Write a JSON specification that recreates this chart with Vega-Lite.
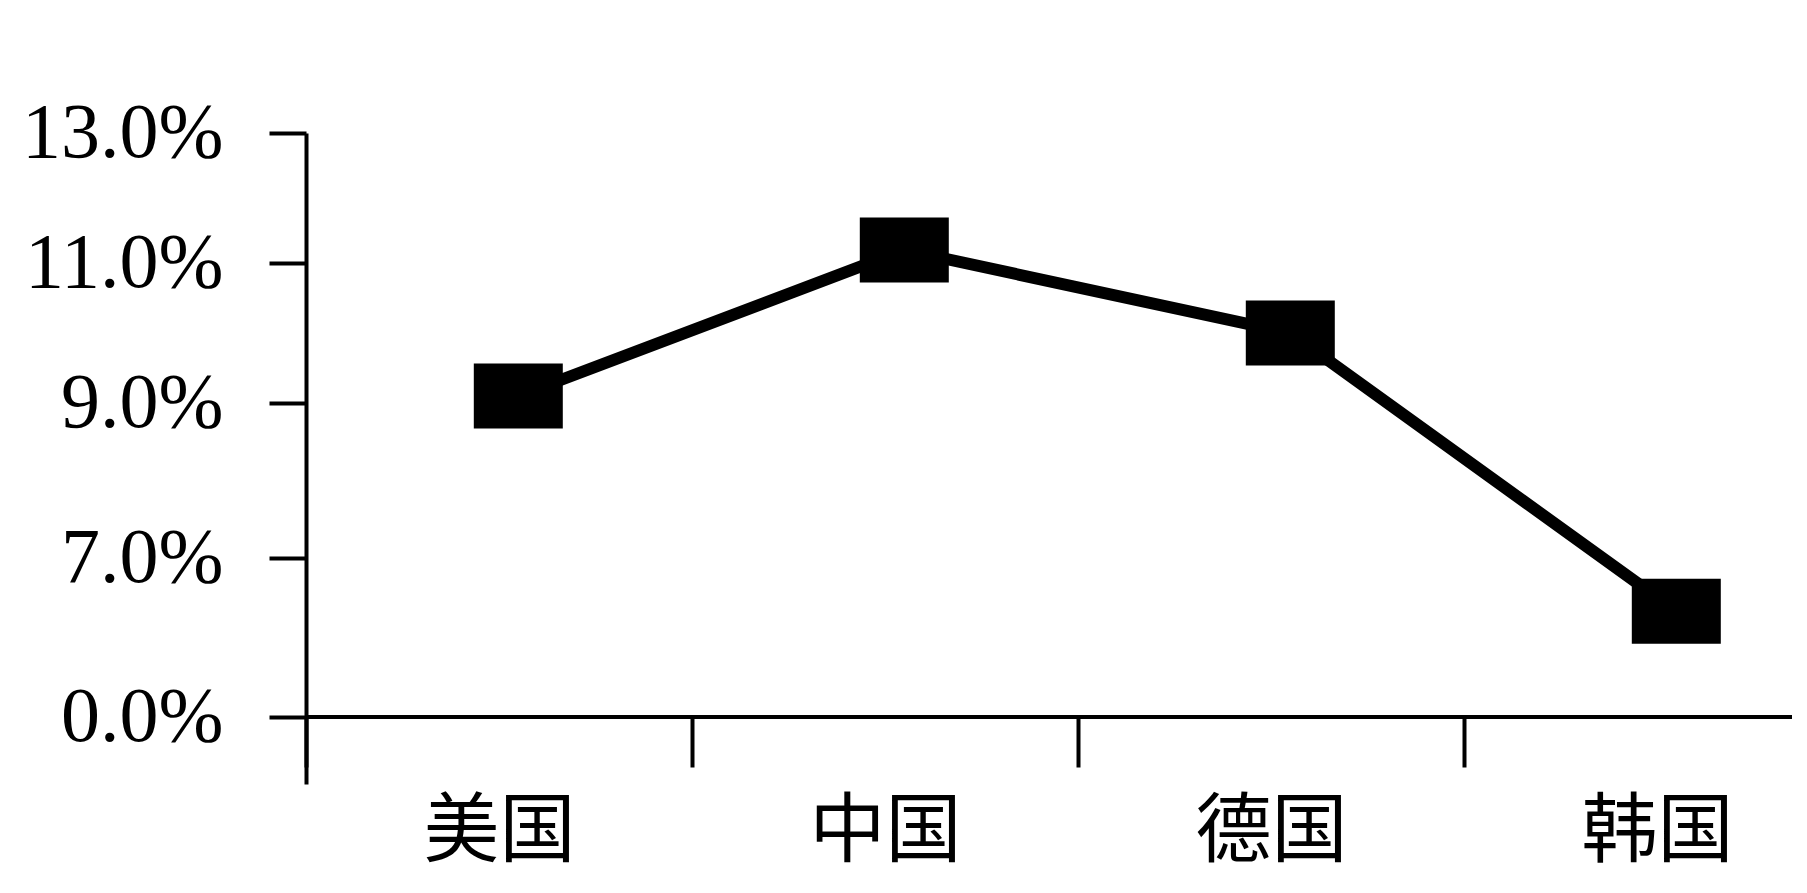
{
  "$schema": "https://vega.github.io/schema/vega-lite/v6.json",
  "width": 1486,
  "height": 651,
  "autosize": {"type": "none"},
  "padding": {"left": 306, "top": 133, "right": 15, "bottom": 109},
  "background": "white",
  "view": {"stroke": null},
  "config": {
    "axis": {"grid": false, "title": null, "labelColor": "black", "tickColor": "black", "domainColor": "black", "labelLimit": 0}
  },
  "data": {
    "values": [
      {"country": "美国", "rate": 9.1},
      {"country": "中国", "rate": 11.2},
      {"country": "德国", "rate": 10.0},
      {"country": "韩国", "rate": 6.3}
    ]
  },
  "encoding": {
    "x": {
      "field": "country",
      "type": "nominal",
      "sort": null,
      "scale": {"type": "band", "range": [0, 1544], "paddingInner": 0, "paddingOuter": 0},
      "axis": {
        "orient": "bottom",
        "offset": -67,
        "domain": false,
        "tickBand": "extent",
        "tickSize": 50,
        "tickWidth": 4,
        "labelFont": "Noto Sans CJK SC",
        "labelFontSize": 76,
        "labelPadding": 28,
        "labelAngle": 0
      }
    },
    "y": {
      "field": "rate",
      "type": "quantitative",
      "scale": {
        "type": "linear",
        "domain": [-2, 0, 6, 7, 9, 11, 13],
        "range": [651, 584, 501, 425, 270, 130, 0],
        "nice": false,
        "zero": false
      },
      "axis": {
        "values": [0, 7, 9, 11, 13],
        "labelExpr": "format(datum.value, '.1f') + '%'",
        "tickSize": 37,
        "tickWidth": 4,
        "domainWidth": 4,
        "labelFont": "Liberation Serif",
        "labelFontSize": 78,
        "labelPadding": 46
      }
    }
  },
  "layer": [
    {
      "mark": {"type": "rule", "color": "black", "strokeWidth": 4},
      "encoding": {"x": null, "y": {"datum": 0}}
    },
    {
      "mark": {"type": "line", "color": "black", "strokeWidth": 12},
      "encoding": {"x": {"field": "country", "type": "nominal", "sort": null, "bandPosition": 0.55}}
    },
    {
      "mark": {
        "type": "point",
        "shape": "M-1,-0.73L1,-0.73L1,0.73L-1,0.73Z",
        "size": 7921,
        "filled": true,
        "color": "black",
        "opacity": 1
      },
      "encoding": {"x": {"field": "country", "type": "nominal", "sort": null, "bandPosition": 0.55}}
    }
  ]
}
